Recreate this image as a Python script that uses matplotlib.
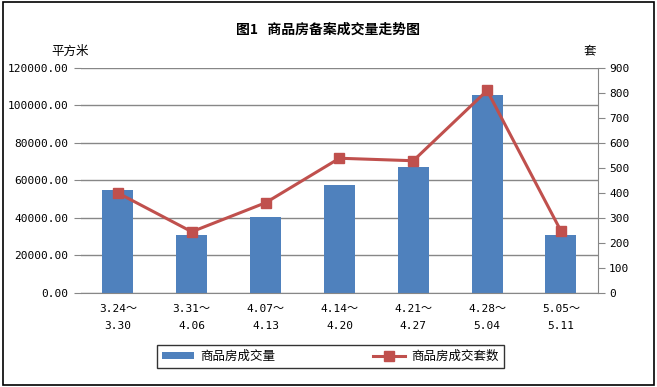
import matplotlib
matplotlib.use("Agg")
import matplotlib.pyplot as plt
from matplotlib.patches import Rectangle
import numpy as np

plt.rcParams['font.family'] = ['Noto Sans CJK SC', 'DejaVu Sans']
mono = ['DejaVu Sans Mono', 'Noto Sans CJK SC']

categories = ["3.24～\n3.30", "3.31～\n4.06", "4.07～\n4.13", "4.14～\n4.20",
              "4.21～\n4.27", "4.28～\n5.04", "5.05～\n5.11"]
area = [55000, 31000, 40600, 57700, 67400, 105700, 31000]
units = [400, 245, 361, 539, 529, 810, 248]

bar_color = "#4F81BD"
line_color = "#C0504D"
grid_color = "#878787"

fig = plt.figure(figsize=(6.57, 3.87), dpi=100)
fig.patches.append(Rectangle((0.004, 0.006), 0.991, 0.988, transform=fig.transFigure,
                             fill=False, edgecolor="black", linewidth=1.2))
ax = fig.add_axes([0.1233, 0.2429, 0.7867, 0.5814])
x = np.arange(len(categories))
ax.bar(x, area, width=0.42, color=bar_color, zorder=2, label="商品房成交量")
ax.set_xlim(-0.5, len(categories) - 0.5)
ax.set_ylim(0, 120000)
ax.set_yticks(np.arange(0, 120001, 20000))
ax.set_yticklabels([f"{v:.2f}" for v in np.arange(0, 120001, 20000)],
                   fontsize=8, family=mono)
ax.yaxis.grid(True, color=grid_color, linewidth=1)
ax.set_axisbelow(True)
ax.set_xticks(x)
ax.set_xticklabels(categories, fontsize=8, linespacing=1.9, family=mono)
ax.tick_params(axis='x', length=0, pad=8)
ax.tick_params(axis='y', length=5, color=grid_color, pad=4)
for s in ["top", "left", "right"]:
    ax.spines[s].set_visible(False)
ax.spines["bottom"].set_color(grid_color)

ax2 = ax.twinx()
ax2.plot(x, units, color=line_color, linewidth=2.2, marker="s", markersize=7.5,
         zorder=3, label="商品房成交套数")
ax2.set_ylim(0, 900)
ax2.set_yticks(np.arange(0, 901, 100))
ax2.set_yticklabels([str(v) for v in range(0, 901, 100)], fontsize=8, family=mono)
ax2.tick_params(axis='y', length=5, color=grid_color, pad=3)
for s in ["top", "left", "bottom"]:
    ax2.spines[s].set_visible(False)
ax2.spines["right"].set_color(grid_color)

fig.text(0.5, 0.922, "图1   商品房备案成交量走势图", ha="center", va="center",
         fontsize=10, fontweight="bold")
fig.text(0.107, 0.868, "平方米", ha="center", va="center", fontsize=9)
fig.text(0.898, 0.868, "套", ha="center", va="center", fontsize=9)

h1, l1 = ax.get_legend_handles_labels()
h2, l2 = ax2.get_legend_handles_labels()
leg = fig.legend(h1 + h2, l1 + l2, loc="center", bbox_to_anchor=(0.503, 0.079),
                 ncol=2, fontsize=9, frameon=True, fancybox=False,
                 edgecolor="black", columnspacing=7.8, handlelength=2.6,
                 handleheight=0.5, handletextpad=0.5, borderpad=0.4,
                 borderaxespad=0)
leg.get_frame().set_linewidth(1)

fig.savefig("out.png", dpi=100)
